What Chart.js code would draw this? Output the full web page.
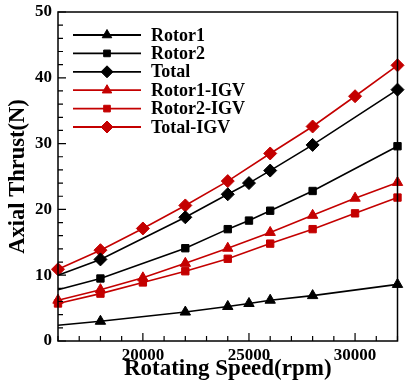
<!DOCTYPE html>
<html><head><meta charset="utf-8">
<script src="https://cdn.jsdelivr.net/npm/chart.js@4/dist/chart.umd.min.js"></script>
<style>html,body{margin:0;padding:0;background:#fff}#wrap{width:405px;height:385px}</style>
</head><body><div id="wrap"><canvas id="c"></canvas></div>
<script>
const rpmBase = [16000, 18000, 22000, 24000, 25000, 26000, 28000, 32000];
const rotor1 = [2.4, 3.0, 4.4, 5.25, 5.7, 6.2, 6.9, 8.6];
const rotor2 = [7.8, 9.5, 14.1, 17.0, 18.3, 19.8, 22.8, 29.6];
const total = [10.0, 12.4, 18.8, 22.3, 24.0, 25.9, 29.8, 38.2];
const rpmIGV = [16000, 18000, 20000, 22000, 24000, 26000, 28000, 30000, 32000];
const rotor1IGV = [6.2, 7.8, 9.6, 11.8, 14.1, 16.5, 19.1, 21.7, 24.1];
const rotor2IGV = [5.7, 7.2, 8.9, 10.6, 12.5, 14.8, 17.0, 19.4, 21.8];
const totalIGV = [10.9, 13.8, 17.1, 20.6, 24.3, 28.5, 32.6, 37.2, 41.9];
const seriesNames = ['Rotor1', 'Rotor2', 'Total', 'Rotor1-IGV', 'Rotor2-IGV', 'Total-IGV'];
const xTickLabels = [20000, 25000, 30000];
const yTickLabels = [0, 10, 20, 30, 40, 50];

const FONT = '"Liberation Serif","Times New Roman",serif';
const BLACK = '#000000', RED = '#c40000';
const toXY = (xs, ys) => xs.map((x, i) => ({x, y: ys[i]}));
const SIZES = {triangle: 6, rect: 5.2, rectRot: 6.5};

function ds(label, xs, ys, color, style, hideFirst) {
  const r = SIZES[style];
  return {
    label, data: toXY(xs, ys), borderColor: color, backgroundColor: color,
    pointStyle: style, pointRadius: xs.map((_, i) => (hideFirst && i === 0) ? 0 : r),
    pointHoverRadius: 0, borderWidth: 1.6, pointBorderWidth: 1, showLine: true,
    clip: false, tension: 0, legendRadius: r - 0.5
  };
}

const datasets = [
  ds(seriesNames[0], rpmBase, rotor1, BLACK, 'triangle', true),
  ds(seriesNames[1], rpmBase, rotor2, BLACK, 'rect', true),
  ds(seriesNames[2], rpmBase, total, BLACK, 'rectRot', true),
  ds(seriesNames[3], rpmIGV, rotor1IGV, RED, 'triangle', false),
  ds(seriesNames[4], rpmIGV, rotor2IGV, RED, 'rect', false),
  ds(seriesNames[5], rpmIGV, totalIGV, RED, 'rectRot', false)
];

const framePlugin = {
  id: 'frame',
  afterDatasetsDraw(chart) {
    const {ctx, chartArea: a, scales: {x, y}} = chart;
    ctx.save();
    ctx.strokeStyle = '#000'; ctx.lineWidth = 1.5;
    ctx.strokeRect(a.left, a.top, a.right - a.left, a.bottom - a.top);
    ctx.lineWidth = 1.2;
    ctx.beginPath();
    x.ticks.forEach(t => {
      const px = x.getPixelForValue(t.value);
      const len = xTickLabels.includes(t.value) ? 8 : 5;
      ctx.moveTo(px, a.bottom); ctx.lineTo(px, a.bottom - len);
    });
    y.ticks.forEach(t => {
      const py = y.getPixelForValue(t.value);
      const len = yTickLabels.includes(t.value) ? 8 : 5;
      ctx.moveTo(a.left, py); ctx.lineTo(a.left + len, py);
    });
    ctx.stroke();
    // legend inside plot
    const x0 = a.left + 15, x1 = a.left + 83, xm = (x0 + x1) / 2, tx = a.left + 93;
    let yy = a.top + 23;
    ctx.font = 'bold 18px ' + FONT;
    ctx.textBaseline = 'middle'; ctx.textAlign = 'left';
    chart.data.datasets.forEach(d => {
      ctx.strokeStyle = d.borderColor; ctx.lineWidth = 1.8;
      ctx.beginPath(); ctx.moveTo(x0, yy); ctx.lineTo(x1, yy); ctx.stroke();
      ctx.fillStyle = d.backgroundColor; ctx.strokeStyle = d.borderColor; ctx.lineWidth = 1;
      Chart.helpers.drawPoint(ctx, {pointStyle: d.pointStyle, radius: d.legendRadius, rotation: 0, borderWidth: 1}, xm, yy);
      ctx.fillStyle = '#000';
      ctx.fillText(d.label, tx, yy + 1);
      yy += 18.4;
    });
    ctx.restore();
  }
};

new Chart(document.getElementById('c'), {
  type: 'scatter',
  data: {datasets},
  options: {
    responsive: true, maintainAspectRatio: false, animation: false,
    layout: {padding: {left: 0, right: 1, top: 12, bottom: 0}},
    plugins: {legend: {display: false}, tooltip: {enabled: false}},
    scales: {
      x: {
        type: 'linear', min: 16000, max: 32000,
        afterFit: s => { s.height = 44; s.paddingLeft = 0; s.paddingRight = 0; },
        grid: {display: false, drawTicks: false},
        border: {display: false},
        ticks: {stepSize: 1000, autoSkip: false, maxRotation: 0, padding: 4, color: '#000',
          font: {family: FONT, size: 17, weight: 'bold'},
          callback: v => xTickLabels.includes(v) ? String(v) : ''},
        title: {display: true, text: 'Rotating Speed(rpm)', color: '#000', padding: {top: 0, bottom: 2},
          font: {family: FONT, size: 23, weight: 'bold'}}
      },
      y: {
        type: 'linear', min: 0, max: 50,
        afterFit: s => { s.width = 58; s.paddingTop = 0; s.paddingBottom = 0; },
        grid: {display: false, drawTicks: false},
        border: {display: false},
        ticks: {stepSize: 2, autoSkip: false, padding: 6, color: '#000',
          font: {family: FONT, size: 17, weight: 'bold'},
          callback: v => yTickLabels.includes(v) ? String(v) : ''},
        title: {display: true, text: 'Axial Thrust(N)', color: '#000', padding: {top: 5, bottom: 0},
          font: {family: FONT, size: 22.5, weight: 'bold'}}
      }
    }
  },
  plugins: [framePlugin]
});
</script></body></html>
